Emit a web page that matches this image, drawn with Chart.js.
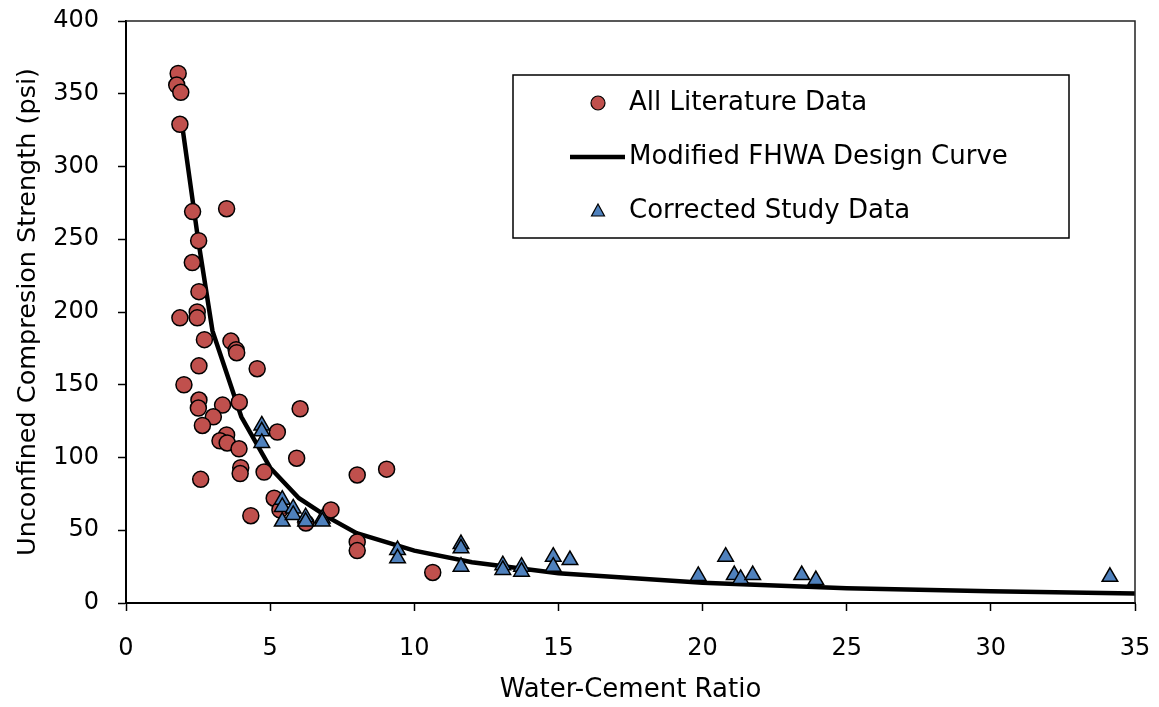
<!DOCTYPE html>
<html>
<head>
<meta charset="utf-8">
<script src="https://cdn.jsdelivr.net/npm/chart.js@4/dist/chart.umd.min.js"></script>
<style>
  html, body { margin: 0; padding: 0; background: #fff; }
  #wrap { width: 1159px; height: 707px; }
</style>
</head>
<body>
<div id="wrap"><canvas id="myScatter" width="1159" height="707"></canvas></div>
<script>
// All Literature Data (circles)
const litX = [1.81, 1.76, 1.90, 1.87, 2.31, 3.49, 2.52, 2.30, 2.53, 2.47, 2.47, 1.87,
  2.72, 3.64, 3.82, 3.84, 2.53, 4.55, 2.01, 2.53, 2.51, 3.35, 3.93, 6.04, 3.03, 2.65,
  5.25, 3.49, 3.26, 3.51, 3.92, 5.92, 3.98, 3.96, 4.79, 2.59, 8.02, 9.04, 5.14, 5.34,
  4.33, 7.11, 6.24, 8.02, 8.02, 10.64];
const litY = [364, 356, 351, 329, 269, 271, 249, 234, 214, 200, 196, 196,
  181, 180, 174, 172, 163, 161, 150, 139.5, 134, 136, 138, 133.5, 128, 122,
  117.5, 115.5, 111.5, 110, 106, 99.5, 93, 89, 90, 85, 88, 92, 72, 64,
  60, 64, 55, 42, 36, 21];

// Corrected Study Data (triangles)
const studyX = [4.71, 4.71, 4.71, 5.42, 5.42, 5.42, 5.80, 5.80, 6.23, 6.23, 6.81, 6.81,
  9.42, 9.42, 11.62, 11.62, 11.62, 13.07, 13.07, 13.72, 13.72, 14.82, 14.82, 15.4,
  19.85, 20.80, 21.10, 21.32, 21.74, 23.44, 23.93, 34.13];
const studyY = [122, 118, 110, 71, 66, 56, 65, 60.5, 59, 56, 58, 56,
  36.4, 30.7, 40.5, 37.6, 25, 26, 22.7, 25, 21.5, 31.8, 25, 29.5,
  18.6, 31.8, 19.2, 16.5, 19.2, 19.2, 15.8, 18];

// Modified FHWA Design Curve
const curveX = [1.95, 2.5, 3, 4, 5, 6, 7, 8, 10, 12, 15, 20, 25, 30, 35];
const curveY = [328, 250, 187, 128, 93, 72, 59, 48, 36, 28, 20.5, 14, 10.2, 8, 6.5];

const labels = ['All Literature Data', 'Modified FHWA Design Curve', 'Corrected Study Data'];

const FONT = 'DejaVu Sans';
const RED = '#C0504D';
const BLUE = '#4F81BD';

const pts = (xs, ys) => xs.map((x, i) => ({x: x, y: ys[i]}));

// box round plot area + the legend box
const frame = {
  id: 'frame',
  afterDraw(chart) {
    const c = chart.ctx;
    const a = chart.chartArea;
    c.save();
    c.strokeStyle = '#222';
    c.lineWidth = 1.5;
    c.beginPath();
    c.moveTo(a.left, a.top);
    c.lineTo(a.right, a.top);
    c.lineTo(a.right, a.bottom);
    c.stroke();

    // legend
    const lx = 513, ly = 75, lw = 556, lh = 163;
    c.fillStyle = '#fff';
    c.fillRect(lx, ly, lw, lh);
    c.strokeStyle = '#000';
    c.lineWidth = 1.5;
    c.strokeRect(lx, ly, lw, lh);
    const mx = 598, tx = 629;
    const rows = [103, 157, 211];
    c.lineWidth = 1.2;
    c.strokeStyle = '#000';
    // circle
    c.fillStyle = RED;
    c.beginPath();
    c.arc(mx, rows[0], 7, 0, Math.PI * 2);
    c.fill();
    c.stroke();
    // line
    c.lineWidth = 4.5;
    c.beginPath();
    c.moveTo(570, rows[1]);
    c.lineTo(625, rows[1]);
    c.stroke();
    // triangle
    c.lineWidth = 1.2;
    c.fillStyle = BLUE;
    c.beginPath();
    c.moveTo(mx, rows[2] - 7);
    c.lineTo(mx + 6.5, rows[2] + 5);
    c.lineTo(mx - 6.5, rows[2] + 5);
    c.closePath();
    c.fill();
    c.stroke();
    c.fillStyle = '#000';
    c.font = '26px "' + FONT + '"';
    c.textAlign = 'left';
    c.textBaseline = 'middle';
    labels.forEach((t, i) => c.fillText(t, tx, rows[i]));
    c.restore();
  }
};

const data = {
  datasets: [
    {
      label: labels[2],
      data: pts(studyX, studyY),
      pointStyle: 'triangle',
      pointRadius: 9,
      backgroundColor: BLUE,
      borderColor: '#000',
      borderWidth: 1.5,
      order: 1
    },
    {
      label: labels[0],
      data: pts(litX, litY),
      pointStyle: 'circle',
      pointRadius: 8,
      backgroundColor: RED,
      borderColor: '#000',
      borderWidth: 1.5,
      order: 2
    },
    {
      label: labels[1],
      data: pts(curveX, curveY),
      showLine: true,
      pointRadius: 0,
      borderColor: '#000',
      borderWidth: 4.5,
      tension: 0,
      order: 3
    }
  ]
};

const tickFont = {family: FONT, size: 24};

const config = {
  type: 'scatter',
  data: data,
  options: {
    responsive: false,
    animation: false,
    layout: { padding: {top: 21, right: 24, left: 0, bottom: 0} },
    plugins: {
      legend: { display: false },
      tooltip: { enabled: false }
    },
    scales: {
      x: {
        min: 0, max: 35,
        ticks: { stepSize: 5, color: '#000', font: tickFont, padding: 23, maxRotation: 0 },
        grid: { drawOnChartArea: false, tickLength: 8, tickColor: '#000', tickWidth: 1.5 },
        border: { display: true, color: '#000', width: 2 },
        title: { display: true, text: 'Water-Cement Ratio', color: '#000',
                 font: {family: FONT, size: 26}, padding: {top: 0, bottom: 1} },
        afterFit(scale) {
          scale.height = 104;
          scale.paddingLeft = 0;
          scale.paddingRight = 0;
        }
      },
      y: {
        min: 0, max: 400,
        ticks: { stepSize: 50, color: '#000', font: tickFont, padding: 19 },
        grid: { drawOnChartArea: false, tickLength: 8, tickColor: '#000', tickWidth: 1.5 },
        border: { display: true, color: '#000', width: 2 },
        title: { display: true, text: 'Unconfined Compresion Strength (psi)', color: '#000',
                 font: {family: FONT, size: 25.5}, padding: {top: 13, bottom: 0} },
        afterFit(scale) {
          scale.width = 126;
          scale.paddingTop = 0;
          scale.paddingBottom = 0;
        }
      }
    }
  },
  plugins: [frame]
};

const myChart = new Chart(document.getElementById('myScatter').getContext('2d'), config);
</script>
</body>
</html>
